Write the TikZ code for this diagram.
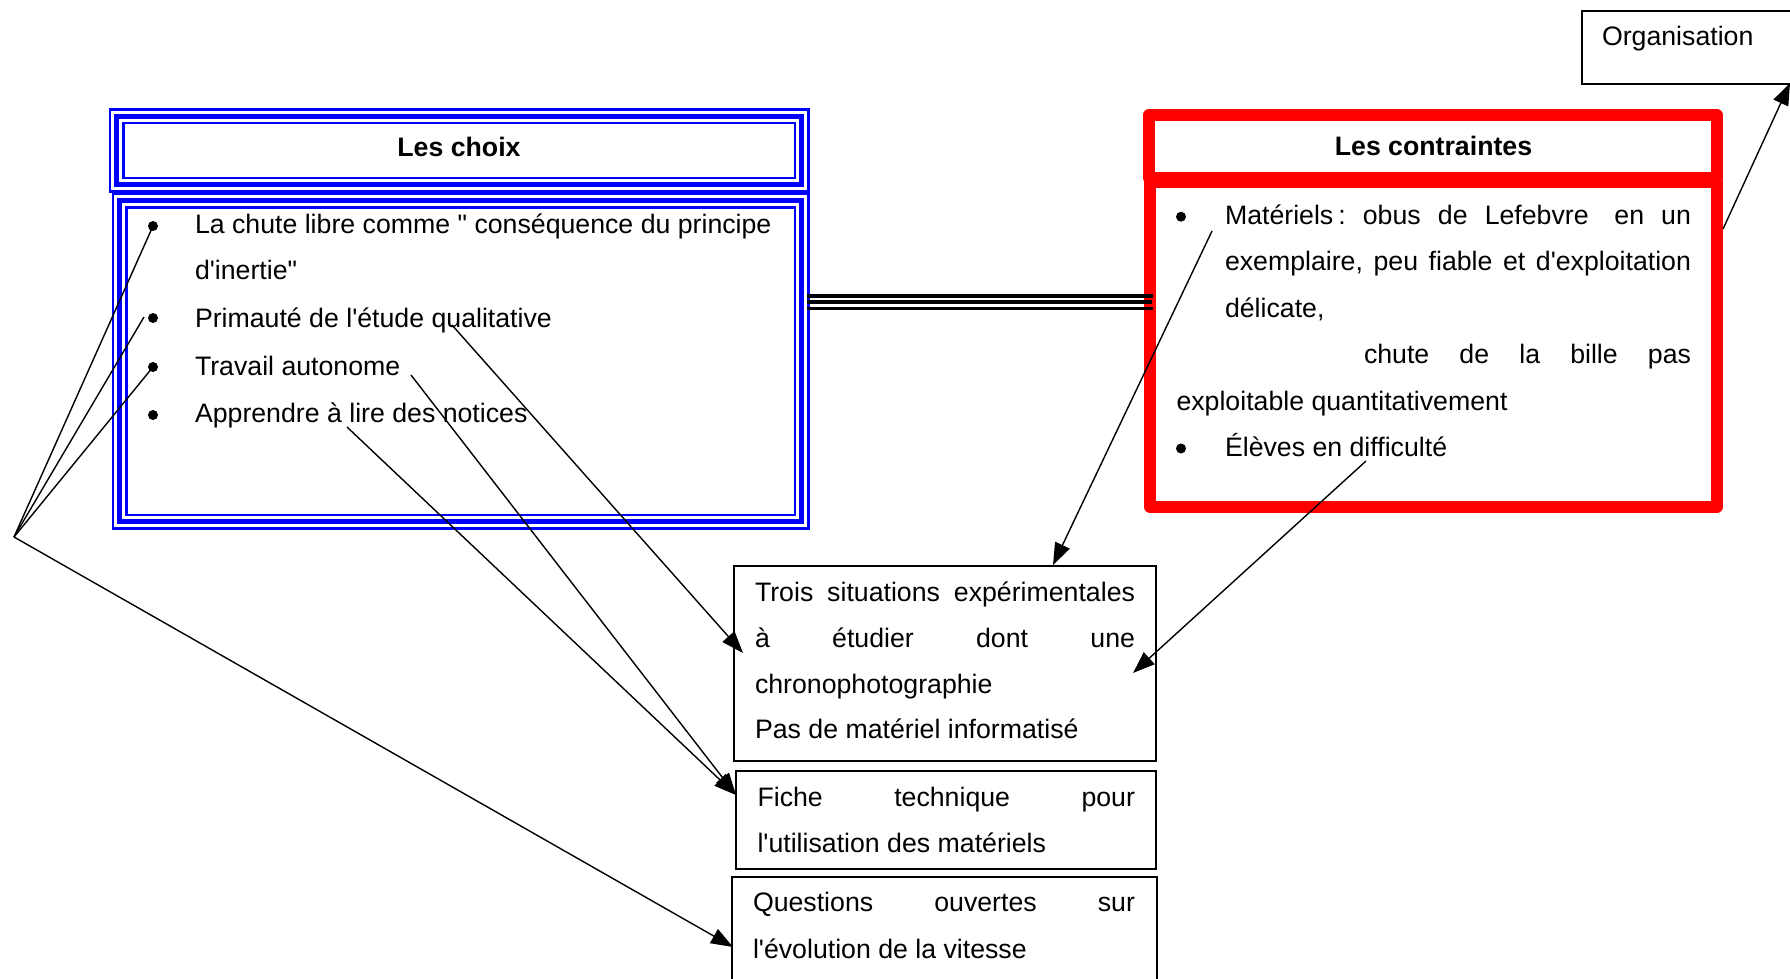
\documentclass[tikz,border=0pt]{standalone}
\usepackage{fontspec}
\newfontfamily\af{Liberation Sans}
\usetikzlibrary{arrows.meta}
\newcommand\dgfont{\af\fontsize{26.7}{46.5}\selectfont}
\begin{document}
\begin{tikzpicture}[x=1pt,y=-1pt,
  txt/.style={font=\dgfont, inner sep=0pt, outer sep=0pt, anchor=base west},
  hdr/.style={font=\dgfont\bfseries, inner sep=0pt, outer sep=0pt, anchor=base},
  bul/.style={circle, fill=black, inner sep=0pt, minimum size=10pt},
  bluebox/.style={draw=blue, line width=5.5pt, inner sep=0pt, outer sep=0pt,
    preaction={draw=blue, line width=16pt},
    preaction={draw=white, line width=10.5pt}},
  redbox/.style={draw=red, line width=12pt, line join=round, inner sep=0pt, outer sep=0pt},
  plainbox/.style={draw=black, line width=1.6pt, inner sep=0pt, outer sep=0pt},
  conn/.style={line width=1.4pt},
  arr/.style={conn, -{Triangle[length=22pt,width=16pt]}},
  triple/.style={line width=3.6pt}]
\useasboundingbox (0,0) rectangle (1790,979);
\fill[white] (0,0) rectangle (1790,979);

% boxes
\node[bluebox, minimum width=685pt, minimum height=68pt] (bhead) at (459,150.5) {};
\node[bluebox, minimum width=682pt, minimum height=321pt] (bbody) at (460.5,361) {};
\node[redbox, minimum width=567.5pt, minimum height=63pt] (rhead) at (1432.75,146.5) {};
\node[redbox, minimum width=566.5pt, minimum height=325pt] (rbody) at (1433.25,344.5) {};
\node[plainbox, minimum width=422pt, minimum height=195pt] (box1) at (945,663.5) {};
\node[plainbox, minimum width=420pt, minimum height=98pt] (box2) at (946,820) {};
\node[plainbox, minimum width=425pt, minimum height=123pt] (box3) at (944.5,938.5) {};
\node[plainbox, minimum width=218pt, minimum height=73pt] (org) at (1691,47.5) {};

% headers
\node[hdr] (hchoix) at (459,157) {Les choix};
\node[hdr] (hcontr) at (1433.5,155) {Les contraintes};
\node[txt] (torg) at (1602,45.7) {Organisation};

% blue body
\node[bul] (bb1) at (153,226) {};
\node[bul] (bb2) at (153,318) {};
\node[bul] (bb3) at (153,367) {};
\node[bul] (bb4) at (153,415) {};
\node[txt] (c1a) at (195,233.5) {La chute libre comme " conséquence du principe};
\node[txt] (c1b) at (195,279.5) {d'inertie"};
\node[txt] (c2) at (195,327) {Primauté de l'étude qualitative};
\node[txt] (c3) at (195,375) {Travail autonome};
\node[txt] (c4) at (195,422.5) {Apprendre à lire des notices};

% red body
\node[bul] (rb1) at (1181,216.7) {};
\node[bul] (rb2) at (1181,448.5) {};
\node[txt] (r1) at (1225,224) {\hbox to 466pt{Matériels\hskip 5pt:\hfill obus\hfill de\hfill Lefebvre\hskip 0pt plus 1.5fill en\hfill un}};
\node[txt] (r2) at (1225,270.5) {\hbox to 466pt{exemplaire,\hfill peu\hfill fiable\hfill et\hfill d'exploitation}};
\node[txt] (r3) at (1225,317) {délicate,};
\node[txt] (r4) at (1364,363.5) {\hbox to 327pt{chute\hfill de\hfill la\hfill bille\hfill pas}};
\node[txt] (r5) at (1176.5,410) {exploitable quantitativement};
\node[txt] (r6) at (1225,456.5) {Élèves en difficulté};

% middle boxes text
\node[txt] (t1) at (755,601.5) {\hbox to 380pt{Trois\hfill situations\hfill expérimentales}};
\node[txt] (t2) at (755,647) {\hbox to 380pt{à\hfill étudier\hfill dont\hfill une}};
\node[txt] (t3) at (755,693) {chronophotographie};
\node[txt] (t4) at (755,738.5) {Pas de matériel informatisé};
\node[txt] (f1) at (757.5,806) {\hbox to 377.5pt{Fiche\hfill technique\hfill pour}};
\node[txt] (f2) at (757.5,852) {l'utilisation des matériels};
\node[txt] (q1) at (753,911.5) {\hbox to 382pt{Questions\hfill ouvertes\hfill sur}};
\node[txt] (q2) at (753,958) {l'évolution de la vitesse};

% triple link between blue and red boxes
\coordinate (la1) at (807,295.7); \coordinate (lb1) at (1153,295.7);
\coordinate (la2) at (807,302);   \coordinate (lb2) at (1152,302);
\coordinate (la3) at (807,308.5); \coordinate (lb3) at (1153,308.5);
\draw[triple] (la1) -- (lb1);
\draw[triple] (la2) -- (lb2);
\draw[triple] (la3) -- (lb3);

% connectors
\coordinate (apex) at (14,537);
\coordinate (p2) at (144,317);
\coordinate (s5) at (452,325);   \coordinate (e5) at (743,653);
\coordinate (s6) at (411,375);   \coordinate (e6) at (736,795);
\coordinate (s7) at (347,427);
\coordinate (e4) at (733,947);
\coordinate (s8) at (1212,231);  \coordinate (e8) at (1053,565);
\coordinate (s9) at (1366,461);  \coordinate (e9) at (1133,673);
\coordinate (s10) at (1723,229); \coordinate (e10) at (1790,83);

\draw[conn] (apex) -- (bb1.center);
\draw[conn] (apex) -- (p2);
\draw[conn] (apex) -- (bb3.center);
\draw[arr] (apex) -- (e4);
\draw[arr] (s5) -- (e5);
\draw[arr] (s6) -- (e6);
\draw[arr] (s7) -- (e6);
\draw[arr] (s8) -- (e8);
\draw[arr] (s9) -- (e9);
\draw[arr] (s10) -- (e10);
\end{tikzpicture}
\end{document}
